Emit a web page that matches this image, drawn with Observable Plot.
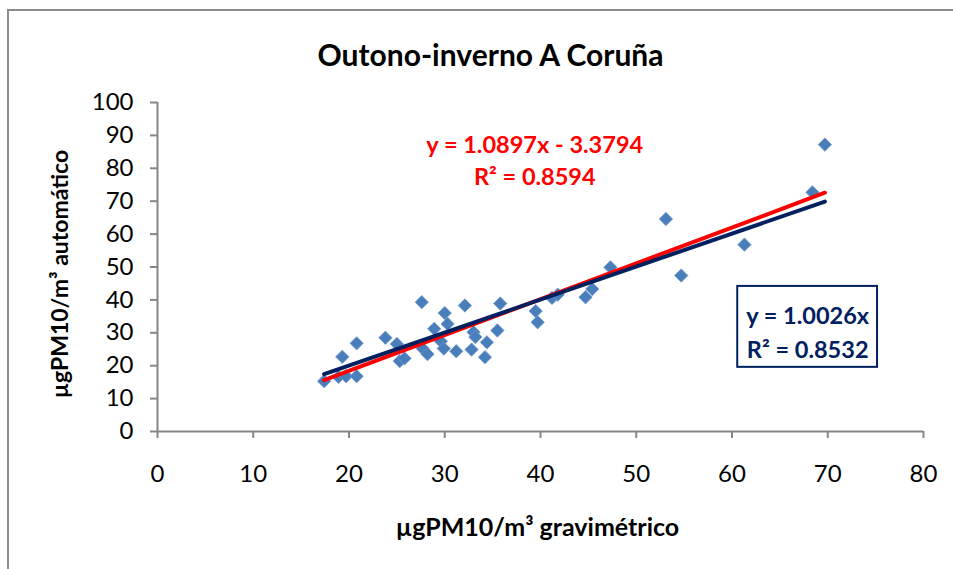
<!DOCTYPE html>
<html>
<head>
<meta charset="utf-8">
<script src="https://cdn.jsdelivr.net/npm/d3@7"></script>
<script src="https://cdn.jsdelivr.net/npm/@observablehq/plot@0.6"></script>
<style>
  html, body { margin: 0; padding: 0; background: #fff; overflow: hidden; }
  #wrap { position: relative; width: 953px; height: 569px; }
  #border { position: absolute; left: 7px; top: 9px; width: 1000px; height: 700px;
            border-left: 2px solid #8c8c8c; border-top: 2px solid #8c8c8c; }
  #chart { position: absolute; left: 0; top: 0; }
</style>
</head>
<body>
<div id="wrap"><div id="border"></div><div id="chart"></div></div>
<script>
// gravimetric PM10 (x) and automatic PM10 (y), µg/m³
const gravimetric = [17.4, 18.9, 19.7, 20.8, 19.3, 20.8, 23.8, 25.0, 25.3, 25.8,
  27.6, 27.7, 28.2, 28.9, 29.6, 29.9, 30.0, 30.3, 31.2, 32.1,
  32.8, 33.0, 33.2, 34.2, 34.4, 35.5, 35.8, 39.5, 39.7, 41.2,
  41.8, 44.7, 45.4, 47.3, 53.1, 54.7, 61.3, 68.4, 69.7];
const automatic = [15.3, 16.6, 16.8, 16.8, 22.7, 26.8, 28.5, 26.6, 21.4, 22.2,
  39.3, 25.2, 23.5, 31.2, 27.4, 25.2, 36.0, 32.7, 24.4, 38.3,
  24.9, 30.2, 28.7, 22.6, 27.1, 30.7, 38.9, 36.6, 33.2, 40.6,
  41.6, 40.8, 43.3, 49.9, 64.6, 47.4, 56.8, 72.7, 87.2];

// trendline coefficients (as printed on the chart)
const fitLinear = {slope: 1.0897, intercept: -3.3794, r2: 0.8594};
const fitOrigin = {slope: 1.0026, intercept: 0, r2: 0.8532};

const xTicks = [0, 10, 20, 30, 40, 50, 60, 70, 80];
const yTicks = [0, 10, 20, 30, 40, 50, 60, 70, 80, 90, 100];

const title = "Outono-inverno A Coruña";
const xLabel = "µgPM10/m³ gravimétrico";
const yLabel = "µgPM10/m³ automático";

const points = gravimetric.map((g, i) => ({x: g, y: automatic[i]}));
const [xmin, xmax] = d3.extent(gravimetric);
const lineOf = f => [xmin, xmax].map(x => ({x, y: f.slope * x + f.intercept}));

const FONT = "Lato, 'Open Sans', sans-serif";
const RED = "#ff0000";
const NAVY = "#002060";
const GRAY = "#868686";

const plot = Plot.plot({
  width: 953,
  height: 569,
  marginLeft: 157,
  marginRight: 30,
  marginTop: 102,
  marginBottom: 138,
  style: {fontFamily: FONT, background: "transparent", overflow: "visible"},
  x: {domain: [0, 80]},
  y: {domain: [0, 100]},
  marks: [
    Plot.ruleX([0], {stroke: GRAY, strokeWidth: 2}),
    Plot.ruleY([0], {stroke: GRAY, strokeWidth: 2}),
    Plot.axisX({ticks: xTicks, tickSize: 7, tickPadding: 26, stroke: GRAY, strokeWidth: 2,
      fill: "#000", fontSize: 24, label: null, tickFormat: d => String(d)}),
    Plot.axisY({ticks: yTicks, tickSize: 7, tickPadding: 17, stroke: GRAY, strokeWidth: 2,
      fill: "#000", fontSize: 24, label: null, tickFormat: d => String(d)}),
    Plot.dot(points, {x: "x", y: "y", symbol: "diamond2", r: 6,
      fill: "#4a7ebb", stroke: "#6f98cc", strokeWidth: 0.8}),
    Plot.line(lineOf(fitLinear), {x: "x", y: "y", stroke: RED, strokeWidth: 4}),
    Plot.line(lineOf(fitOrigin), {x: "x", y: "y", stroke: NAVY, strokeWidth: 4}),
    // equation labels (red)
    Plot.text([`y = ${fitLinear.slope}x - ${Math.abs(fitLinear.intercept)}`], {
      x: 39.4, y: 87.0, fill: RED, fontWeight: "bold", fontSize: 23.5}),
    Plot.text([`R² = ${fitLinear.r2}`], {
      x: 39.4, y: 77.3, fill: RED, fontWeight: "bold", fontSize: 23.5}),
    // box for the through-origin fit
    Plot.rect([0], {x1: 60.6, x2: 75.2, y1: 19.5, y2: 44.1, fill: "white", stroke: NAVY, strokeWidth: 2}),
    Plot.text([`y = ${fitOrigin.slope}x`], {
      x: 67.9, y: 35.0, fill: NAVY, fontWeight: "bold", fontSize: 23.5}),
    Plot.text([`R² = ${fitOrigin.r2}`], {
      x: 67.9, y: 24.6, fill: NAVY, fontWeight: "bold", fontSize: 23.5}),
    // titles
    Plot.text([title], {frameAnchor: "top", dx: -50, dy: -58, fill: "#000",
      fontWeight: "bold", fontSize: 30}),
    Plot.text([xLabel], {frameAnchor: "bottom", dx: -3, dy: 104, fill: "#000",
      fontWeight: "bold", fontSize: 25}),
    Plot.text([yLabel], {frameAnchor: "left", textAnchor: "middle", dx: -97, dy: 7, rotate: -90,
      fill: "#000", fontWeight: "bold", fontSize: 23})
  ]
});
document.getElementById("chart").appendChild(plot);
</script>
</body>
</html>
